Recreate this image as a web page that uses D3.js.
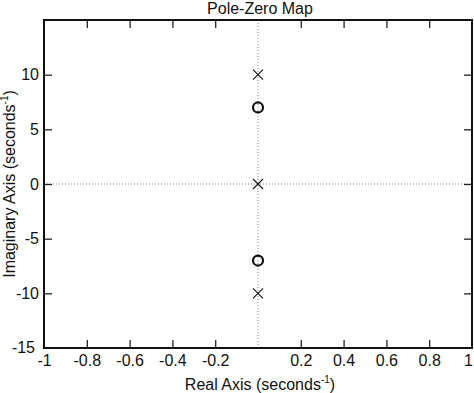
<!DOCTYPE html>
<html>
<head>
<meta charset="utf-8">
<script src="https://cdn.jsdelivr.net/npm/d3@7"></script>
<style>
  html, body { margin: 0; padding: 0; background: #fff; }
  svg { display: block; font-family: "Liberation Sans", Arial, sans-serif; }
</style>
</head>
<body>
<script>
// pole / zero locations (real, imaginary)
const poles = [[0, 10], [0, 0], [0, -10]];
const zeros = [[0, 7], [0, -7]];
const xTicks = [-1, -0.8, -0.6, -0.4, -0.2, 0.2, 0.4, 0.6, 0.8, 1];
const yTicks = [-15, -10, -5, 0, 5, 10];

const width = 474, height = 393;
const margin = { top: 20, right: 2, bottom: 45, left: 44 };
const fs = 16;

const svg = d3.select('body').append('svg')
  .attr('width', width)
  .attr('height', height);

const x = d3.scaleLinear().domain([-1, 1]).range([margin.left, width - margin.right]);
const y = d3.scaleLinear().domain([-15, 15]).range([height - margin.bottom, margin.top]);

// dotted lines through origin
svg.append('line')
  .attr('x1', x(0)).attr('x2', x(0))
  .attr('y1', y(15)).attr('y2', y(-15))
  .attr('stroke', '#888').attr('stroke-width', 1).attr('stroke-dasharray', '1,2');
svg.append('line')
  .attr('x1', x(-1)).attr('x2', x(1))
  .attr('y1', y(0)).attr('y2', y(0))
  .attr('stroke', '#888').attr('stroke-width', 1).attr('stroke-dasharray', '1,2');

// axes, ticks pointing inward
const inner = v => Math.abs(v) !== 1;
const fmt = d => String(d);

const axBottom = svg.append('g')
  .attr('transform', `translate(0,${y(-15)})`)
  .call(d3.axisBottom(x).tickValues(xTicks).tickSizeInner(-8).tickSizeOuter(0).tickPadding(7).tickFormat(fmt));
const axTop = svg.append('g')
  .attr('transform', `translate(0,${y(15)})`)
  .call(d3.axisTop(x).tickValues(xTicks.filter(inner)).tickSizeInner(-8).tickSizeOuter(0).tickFormat(''));
const axLeft = svg.append('g')
  .attr('transform', `translate(${x(-1)},0)`)
  .call(d3.axisLeft(y).tickValues(yTicks).tickSizeInner(-8).tickSizeOuter(0).tickPadding(5).tickFormat(fmt));
const axRight = svg.append('g')
  .attr('transform', `translate(${x(1)},0)`)
  .call(d3.axisRight(y).tickValues(yTicks.filter(v => v !== -15)).tickSizeInner(-8).tickSizeOuter(0).tickFormat(''));

[axBottom, axTop, axLeft, axRight].forEach(g => {
  g.select('.domain').remove();
  g.selectAll('.tick line').attr('stroke', '#222').attr('stroke-width', 1.3);
  g.selectAll('text').attr('font-size', fs).attr('fill', '#111')
    .attr('font-family', '"Liberation Sans", Arial, sans-serif');
});
axBottom.selectAll('.tick').filter(d => !inner(d)).select('line').remove();
// keep the right-edge "1" inside the page
axBottom.selectAll('.tick').filter(d => d === 1).select('text').attr('x', -4);
axLeft.selectAll('.tick').filter(d => d === -15).select('line').remove();
axLeft.selectAll('.tick').filter(d => d === -15).select('text').attr('x', -9).attr('dy', '0.25em');

// frame
svg.append('rect')
  .attr('x', x(-1)).attr('y', y(15))
  .attr('width', x(1) - x(-1)).attr('height', y(-15) - y(15))
  .attr('fill', 'none').attr('stroke', '#111').attr('stroke-width', 2);

// poles
svg.selectAll('.pole')
  .data(poles)
  .enter()
  .append('path')
  .attr('class', 'pole')
  .attr('d', d => {
    const cx = x(d[0]), cy = y(d[1]), s = 5;
    return `M${cx - s},${cy - s}L${cx + s},${cy + s}M${cx - s},${cy + s}L${cx + s},${cy - s}`;
  })
  .attr('stroke', '#111').attr('stroke-width', 1.1).attr('fill', 'none');

// zeros
svg.selectAll('.zero')
  .data(zeros)
  .enter()
  .append('circle')
  .attr('class', 'zero')
  .attr('cx', d => x(d[0]))
  .attr('cy', d => y(d[1]))
  .attr('r', 5)
  .attr('fill', 'none').attr('stroke', '#111').attr('stroke-width', 2.2);

// title and axis labels
svg.append('text')
  .attr('x', 260).attr('y', 14)
  .attr('text-anchor', 'middle').attr('font-size', fs).attr('fill', '#111')
  .text('Pole-Zero Map');

const xl = svg.append('text')
  .attr('x', 260).attr('y', 390)
  .attr('text-anchor', 'middle').attr('font-size', fs).attr('fill', '#111');
xl.append('tspan').text('Real Axis (seconds');
xl.append('tspan').attr('dy', -7).attr('font-size', 10).text('-1');
xl.append('tspan').attr('dy', 7).text(')');

const yl = svg.append('text')
  .attr('transform', `translate(15,${y(0)}) rotate(-90)`)
  .attr('text-anchor', 'middle').attr('font-size', fs).attr('fill', '#111');
yl.append('tspan').text('Imaginary Axis (seconds');
yl.append('tspan').attr('dy', -7).attr('font-size', 10).text('-1');
yl.append('tspan').attr('dy', 7).text(')');
</script>
</body>
</html>
